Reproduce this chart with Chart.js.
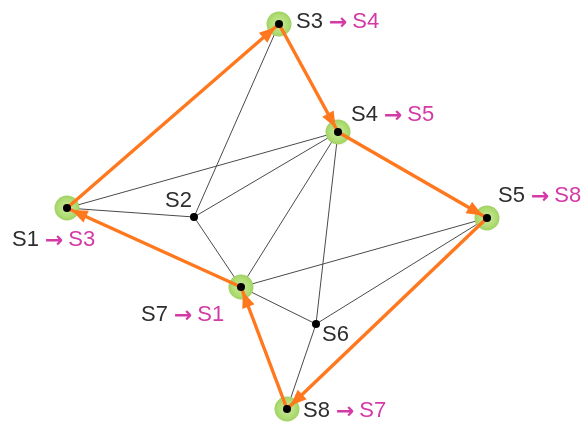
<!DOCTYPE html>
<html>
<head>
<meta charset="utf-8">
<script src="https://cdn.jsdelivr.net/npm/chart.js@4/dist/chart.umd.min.js"></script>
<style>
  html, body { margin: 0; padding: 0; background: #fff; }
  #wrap { width: 586px; height: 425px; }
</style>
</head>
<body>
<div id="wrap"><canvas id="net" width="586" height="425"></canvas></div>
<script>
// nodes (position in drawing units, y grows downwards)
const nodeNames = ['S1', 'S2', 'S3', 'S4', 'S5', 'S6', 'S7', 'S8'];
const nodeX = [67, 194, 279, 338, 487, 316, 241, 287];
const nodeY = [208, 217, 24, 132, 218, 324, 287, 409];
// next hop shown after the arrow, '' = no routing label
const nextHop = ['S3', '', 'S4', 'S5', 'S8', '', 'S1', 'S7'];
// nodes that sit on the route (green halo)
const routeNodes = ['S1', 'S3', 'S4', 'S5', 'S7', 'S8'];

// plain links
const links = [
  ['S1', 'S4'], ['S1', 'S2'], ['S2', 'S3'], ['S2', 'S4'], ['S2', 'S7'],
  ['S4', 'S7'], ['S4', 'S6'], ['S7', 'S5'], ['S7', 'S6'], ['S6', 'S5'], ['S6', 'S8']
];
// route hops (from -> to)
const hops = [
  ['S1', 'S3'], ['S3', 'S4'], ['S4', 'S5'], ['S5', 'S8'], ['S8', 'S7'], ['S7', 'S1']
];

// label placement relative to the node (pixels)
const labelOffset = {
  S1: [-55, 32], S2: [-29, -16], S3: [17, -2], S4: [13, -17],
  S5: [11, -22], S6: [6, 11], S7: [-100, 28], S8: [16, 2]
};

const ORANGE = '#ff781e';
const PINK = '#d43aa6';
const INK = '#2e2e2e';
const FONT = '22px "Liberation Sans", Arial, sans-serif';
const ARROW_FONT = 'bold 22px "DejaVu Sans", sans-serif';

const pt = name => {
  const i = nodeNames.indexOf(name);
  return { x: nodeX[i], y: nodeY[i] };
};

const datasets = [];
links.forEach(l => {
  datasets.push({
    type: 'line', data: [pt(l[0]), pt(l[1])],
    borderColor: '#4a4a4a', borderWidth: 1, pointRadius: 0, order: 4
  });
});
datasets.push({
  type: 'scatter',
  data: routeNodes.map(pt),
  pointRadius: 12.5,
  borderWidth: 0,
  backgroundColor: c => {
    const ch = c.chart;
    const p = c.raw;
    if (!p || !ch.scales.x) return '#b2dc76';
    const px = ch.scales.x.getPixelForValue(p.x);
    const py = ch.scales.y.getPixelForValue(p.y);
    if (!Number.isFinite(px) || !Number.isFinite(py)) return '#b2dc76';
    const g = ch.ctx.createRadialGradient(px, py, 0, px, py, 13);
    g.addColorStop(0, '#cdeba0');
    g.addColorStop(0.7, '#afdc72');
    g.addColorStop(1, '#9ed061');
    return g;
  },
  order: 3
});
hops.forEach(h => {
  datasets.push({
    type: 'line', data: [pt(h[0]), pt(h[1])],
    borderColor: ORANGE, borderWidth: 3.4, pointRadius: 0, order: 2
  });
});
datasets.push({
  type: 'scatter',
  data: nodeNames.map(pt),
  pointRadius: 4, borderWidth: 0, backgroundColor: '#000', order: 1
});

const overlay = {
  id: 'overlay',
  afterDatasetsDraw(chart) {
    const { ctx, scales } = chart;
    const X = v => scales.x.getPixelForValue(v);
    const Y = v => scales.y.getPixelForValue(v);
    ctx.save();
    // arrow heads
    hops.forEach(h => {
      const a = pt(h[0]), b = pt(h[1]);
      const x1 = X(a.x), y1 = Y(a.y), x2 = X(b.x), y2 = Y(b.y);
      const ang = Math.atan2(y2 - y1, x2 - x1);
      const tx = x2 - Math.cos(ang) * 5, ty = y2 - Math.sin(ang) * 5;
      const len = 16, half = 6.5;
      const bx = tx - Math.cos(ang) * len, by = ty - Math.sin(ang) * len;
      ctx.beginPath();
      ctx.moveTo(tx, ty);
      ctx.lineTo(bx - Math.sin(ang) * half, by + Math.cos(ang) * half);
      ctx.lineTo(bx + Math.sin(ang) * half, by - Math.cos(ang) * half);
      ctx.closePath();
      ctx.fillStyle = ORANGE;
      ctx.fill();
    });
    // labels
    ctx.textBaseline = 'middle';
    ctx.textAlign = 'left';
    nodeNames.forEach((n, i) => {
      const off = labelOffset[n];
      let x = X(nodeX[i]) + off[0];
      const y = Y(nodeY[i]) + off[1];
      ctx.font = FONT;
      ctx.fillStyle = INK;
      ctx.fillText(n, x, y);
      if (!nextHop[i]) return;
      x += ctx.measureText(n).width + 6;
      ctx.fillStyle = PINK;
      ctx.font = ARROW_FONT;
      ctx.fillText('\u2192', x, y + 1);
      x += ctx.measureText('\u2192').width + 5;
      ctx.font = FONT;
      ctx.fillText(nextHop[i], x, y);
    });
    ctx.restore();
  }
};

new Chart(document.getElementById('net'), {
  data: { datasets },
  options: {
    responsive: false,
    animation: false,
    events: [],
    layout: { padding: 0, autoPadding: false },
    plugins: { legend: { display: false }, tooltip: { enabled: false } },
    scales: {
      x: { type: 'linear', min: 0, max: 586, display: false },
      y: { type: 'linear', min: 0, max: 425, reverse: true, display: false }
    }
  },
  plugins: [overlay]
});
</script>
</body>
</html>
